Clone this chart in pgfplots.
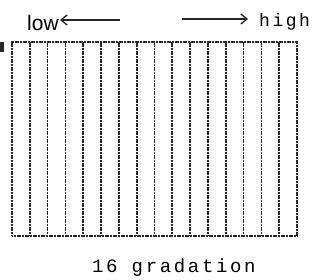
\documentclass[border=0pt]{standalone}
\usepackage{pgfplots}
\pgfplotsset{compat=1.18}
\usepackage{fontspec}
\setmainfont{Liberation Sans}
\newfontfamily\monofont{Liberation Mono}
\newfontfamily\spacedmono[LetterSpace=14]{Liberation Mono}
\usetikzlibrary{arrows.meta}
\begin{document}
\begin{tikzpicture}[x=1pt,y=1pt]
\path[use as bounding box] (0,0) rectangle (315,280);
\begin{axis}[
  at={(12pt,44pt)}, anchor=south west,
  scale only axis, width=285pt, height=194pt,
  xmin=0, xmax=16, ymin=0, ymax=1,
  xtick=\empty, ytick=\empty,
  axis line style={black!85, line width=1.6pt, dash pattern=on 1.2pt off 0.4pt},
  clip=false,
]
\addplot[ycomb, no marks, black!85, line width=1.7pt, dash pattern=on 1.2pt off 0.4pt]
  coordinates {(1,1) (2,1) (3,1) (4,1) (5,1) (6,1) (7,1) (8,1) (9,1) (10,1) (11,1) (12,1) (13,1) (14,1) (15,1)};
\end{axis}
\fill[black!85] (0,228) rectangle (4,238);
\node[font=\fontsize{21}{21}\selectfont, inner sep=0pt, anchor=west] at (27,257) {low};
\draw[black!85, line width=1.4pt, -{Straight Barb[length=6pt,width=10pt]}] (120,260) -- (60,260);
\draw[black!85, line width=1.4pt, -{Straight Barb[length=6pt,width=10pt]}] (182,261) -- (248,261);
\node[font=\spacedmono\fontsize{18}{18}\selectfont, inner sep=0pt, anchor=west] at (259,258) {high};
\node[font=\spacedmono\fontsize{19}{19}\selectfont, inner sep=0pt, anchor=west] at (92,12) {16 gradation};
\end{tikzpicture}
\end{document}
